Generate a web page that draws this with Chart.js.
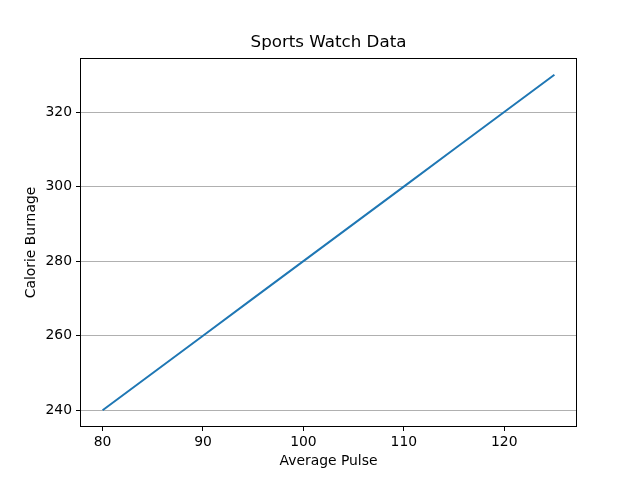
<!DOCTYPE html>
<html>
<head>
<meta charset="utf-8">
<script src="https://cdn.jsdelivr.net/npm/chart.js@4/dist/chart.umd.min.js"></script>
<style>
  html, body { margin: 0; padding: 0; background: #fff; }
  #wrap { width: 640px; height: 480px; }
</style>
</head>
<body>
<div id="wrap"><canvas id="myChart" width="640" height="480"></canvas></div>
<script>
// data
const pulse = [80, 85, 90, 95, 100, 105, 110, 115, 120, 125];
const calories = [240, 250, 260, 270, 280, 290, 300, 310, 320, 330];
const xTicks = [80, 90, 100, 110, 120];
const yTicks = [240, 260, 280, 300, 320];
const chartTitle = "Sports Watch Data";

const font = "'DejaVu Sans', sans-serif";

// matplotlib draws a full box round the axes, and centres the title on it
const frame = {
  id: "frame",
  afterDraw(chart) {
    const a = chart.chartArea;
    const ctx = chart.ctx;
    ctx.save();
    ctx.strokeStyle = "#000";
    ctx.lineWidth = 1;
    ctx.strokeRect(Math.round(a.left) + 0.5, Math.round(a.top) + 0.5,
      Math.round(a.right - a.left) - 1, Math.round(a.bottom - a.top) - 1);
    ctx.fillStyle = "#000";
    ctx.font = "16.7px " + font;
    ctx.textAlign = "center";
    ctx.textBaseline = "middle";
    ctx.fillText(chartTitle, (a.left + a.right) / 2, 43);
    ctx.restore();
  },
};

const config = {
  type: "line",
  data: {
    datasets: [
      {
        data: pulse.map((p, i) => ({ x: p, y: calories[i] })),
        borderColor: "#1f77b4",
        borderWidth: 2,
        pointRadius: 0,
        tension: 0,
      },
    ],
  },
  options: {
    responsive: false,
    animation: false,
    layout: { padding: { left: 23, right: 63, top: 58, bottom: 0 } },
    plugins: {
      legend: { display: false },
      tooltip: { enabled: false },
      title: { display: false },
    },
    scales: {
      x: {
        type: "linear",
        min: 77.75,
        max: 127.25,
        afterBuildTicks: (s) => { s.ticks = xTicks.map((v) => ({ value: v })); },
        afterFit: (s) => { s.height = 53; },
        grid: { drawOnChartArea: false, drawTicks: true, tickLength: 4, color: "#000" },
        border: { display: false },
        ticks: { color: "#000", font: { family: font, size: 13.9 }, padding: 3, maxRotation: 0 },
        title: {
          display: true,
          text: "Average Pulse",
          color: "#000",
          font: { family: font, size: 13.9 },
          padding: { top: 2, bottom: 10 },
        },
      },
      y: {
        type: "linear",
        min: 235.5,
        max: 334.5,
        afterBuildTicks: (s) => { s.ticks = yTicks.map((v) => ({ value: v })); },
        afterFit: (s) => { s.width = 57; },
        grid: {
          drawTicks: true,
          tickLength: 4,
          color: "#b0b0b0",
          tickColor: "#000",
        },
        border: { display: false },
        ticks: { color: "#000", font: { family: font, size: 13.9 }, padding: 4 },
        title: {
          display: true,
          text: "Calorie Burnage",
          color: "#000",
          font: { family: font, size: 13.9 },
          padding: { top: 0, bottom: 4 },
        },
      },
    },
  },
  plugins: [frame],
};

new Chart(document.getElementById("myChart"), config);
</script>
</body>
</html>
